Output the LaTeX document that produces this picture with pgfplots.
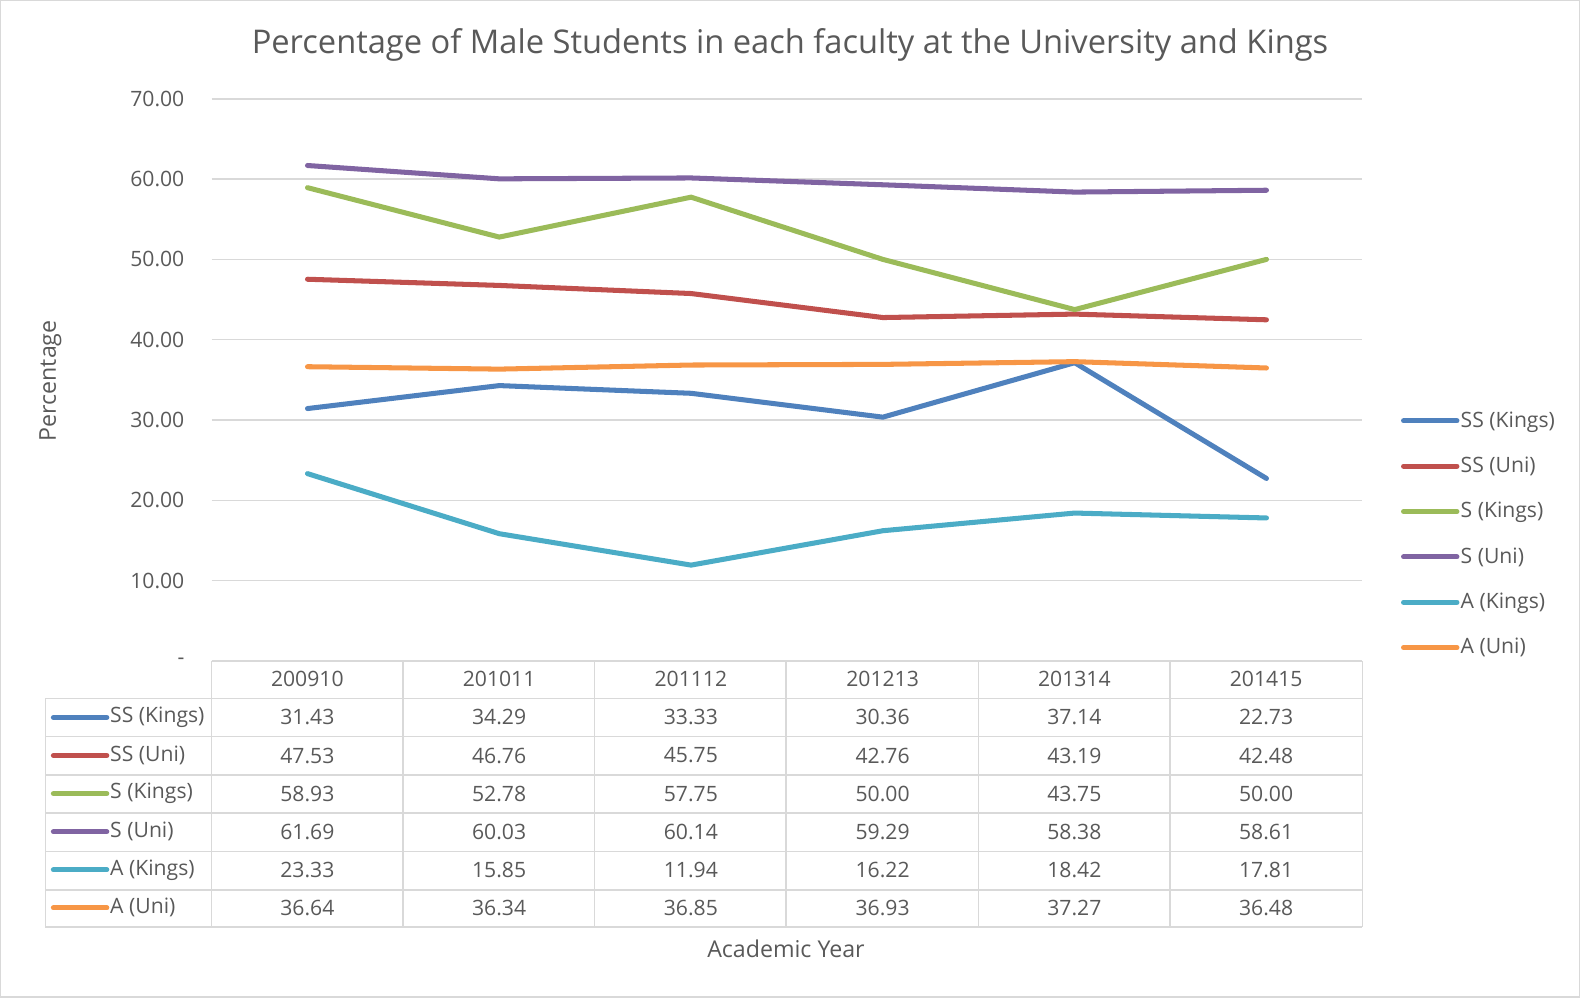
\documentclass[border=0pt]{standalone}
\usepackage{pgfplots}
\pgfplotsset{compat=1.18}
\usepackage{fontspec}
\setmainfont{Open Sans}
\definecolor{txt}{HTML}{595959}
\definecolor{gridc}{HTML}{D9D9D9}
\definecolor{c1}{HTML}{4F81BD}
\definecolor{c2}{HTML}{C0504D}
\definecolor{c3}{HTML}{9BBB59}
\definecolor{c4}{HTML}{8064A2}
\definecolor{c5}{HTML}{4BACC6}
\definecolor{c6}{HTML}{F79646}
\newcommand{\lbl}{\fontsize{10.5}{12.5}\selectfont}
\newcommand{\ttl}{\fontsize{11.5}{13.5}\selectfont}

\begin{document}
\begin{tikzpicture}
\useasboundingbox (0,0) rectangle (784pt,495pt);
\draw[gridc, line width=0.6pt] (0.3pt,0.3pt) rectangle (783.7pt,494.7pt);

\begin{axis}[
  at={(105pt,167pt)}, anchor=south west,
  scale only axis, width=571pt, height=279pt,
  xmin=-0.5, xmax=5.5, ymin=0, ymax=70,
  axis line style={draw=none},
  xtick=\empty,
  ytick={0,10,...,70},
  yticklabels={-\hspace{5.5pt},10.00,20.00,30.00,40.00,50.00,60.00,70.00},
  ymajorgrids, grid style={gridc, line width=0.75pt},
  major tick length=0pt,
  tick label style={font=\lbl, text=txt},
  yticklabel style={xshift=-10pt},
  every axis plot/.append style={line width=2.5pt, line cap=round, line join=round},
  legend cell align=left,
  legend image code/.code={\draw[#1] (0pt,0pt) -- (26.5pt,0pt);},
  legend style={at={(1.028,0.2255)}, anchor=west, draw=none, fill=none,
    font=\lbl, text=txt, row sep=12.1pt,
    nodes={inner sep=0.6pt}},
]
\addplot[c1] coordinates {(0,31.43) (1,34.29) (2,33.33) (3,30.36) (4,37.14) (5,22.73)};
\addlegendentry{SS (Kings)}
\addplot[c2] coordinates {(0,47.53) (1,46.76) (2,45.75) (3,42.76) (4,43.19) (5,42.48)};
\addlegendentry{SS (Uni)}
\addplot[c3] coordinates {(0,58.93) (1,52.78) (2,57.75) (3,50.00) (4,43.75) (5,50.00)};
\addlegendentry{S (Kings)}
\addplot[c4] coordinates {(0,61.69) (1,60.03) (2,60.14) (3,59.29) (4,58.38) (5,58.61)};
\addlegendentry{S (Uni)}
\addplot[c5] coordinates {(0,23.33) (1,15.85) (2,11.94) (3,16.22) (4,18.42) (5,17.81)};
\addlegendentry{A (Kings)}
\addplot[c6] coordinates {(0,36.64) (1,36.34) (2,36.85) (3,36.93) (4,37.27) (5,36.48)};
\addlegendentry{A (Uni)}
\end{axis}

\begin{scope}[x=0.5pt, y=-0.5pt, yshift=495pt]
  % title and axis titles
  \node[text=txt, font=\fontsize{16.2}{19}\selectfont] at (784,45) {Percentage of Male Students in each faculty at the University and Kings};
  \node[text=txt, font=\ttl, rotate=90] at (50,378) {Percentage};
  \node[text=txt, font=\ttl] at (780,942) {Academic Year};
  % data table grid
  \foreach \x in {210,400,590,780,971,1161,1352}
    \draw[gridc, line width=0.75pt] (\x,656) -- (\x,920);
  \draw[gridc, line width=0.75pt] (45,693) -- (45,920);
  \draw[gridc, line width=0.75pt] (210,656) -- (1352,656);
  \foreach \y in {693,731,769,807,845,883,920}
    \draw[gridc, line width=0.75pt] (45,\y) -- (1352,\y);
  % header
  \foreach \lab [count=\i from 0] in {200910,201011,201112,201213,201314,201415}
    \node[text=txt, font=\lbl] at (305+190.3*\i,674) {\lab};
  % rows
  \foreach \c/\name/\vals [count=\r from 0] in {
      c1/SS (Kings)/{31.43,34.29,33.33,30.36,37.14,22.73},
      c2/SS (Uni)/{47.53,46.76,45.75,42.76,43.19,42.48},
      c3/S (Kings)/{58.93,52.78,57.75,50.00,43.75,50.00},
      c4/S (Uni)/{61.69,60.03,60.14,59.29,58.38,58.61},
      c5/A (Kings)/{23.33,15.85,11.94,16.22,18.42,17.81},
      c6/A (Uni)/{36.64,36.34,36.85,36.93,37.27,36.48}} {
    \pgfmathsetmacro{\yy}{712+37.8*\r}
    \draw[\c, line width=2.5pt, line cap=round] (53,\yy) -- (106,\yy);
    \node[text=txt, font=\lbl, anchor=west, inner sep=0pt] at (109,\yy) {\name};
    \foreach \v [count=\i from 0] in \vals
      \node[text=txt, font=\lbl] at (305+190.3*\i,\yy) {\v};
  }
\end{scope}
\end{tikzpicture}
\end{document}
